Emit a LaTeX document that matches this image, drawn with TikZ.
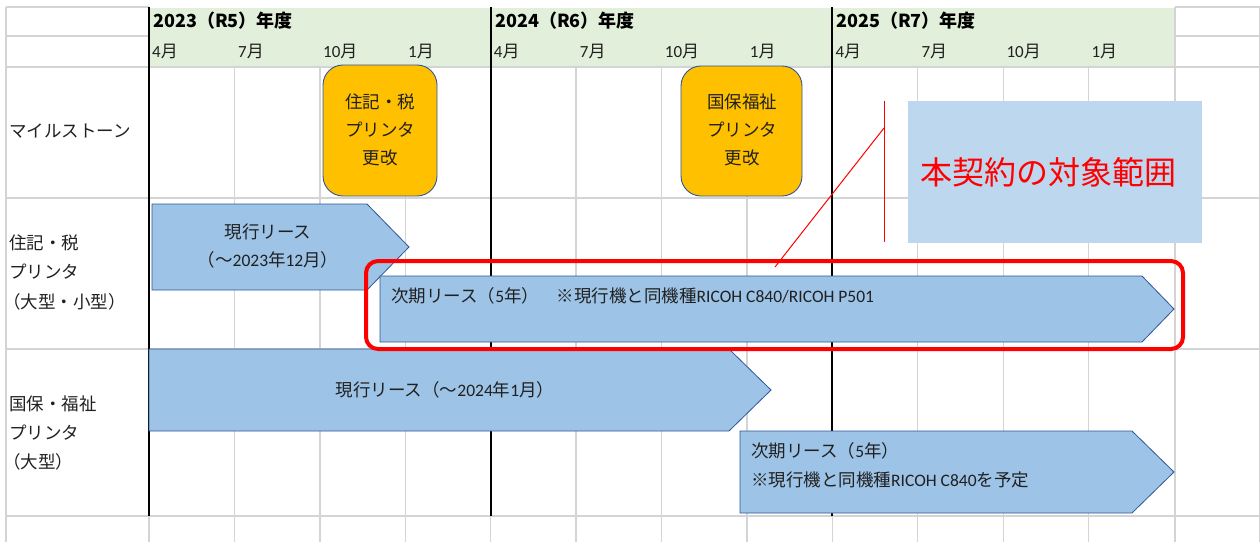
\documentclass[tikz,border=0pt]{standalone}
\usepackage{fontspec}
\newfontfamily\jp{Noto Sans CJK JP}
\newfontfamily\cl{Carlito}
\newcommand\cln[1]{{\cl #1}}
\definecolor{gridgray}{HTML}{D4D4D4}
\definecolor{hdrgreen}{HTML}{E2EFDA}
\definecolor{arrowblue}{HTML}{9DC3E6}
\definecolor{borderblue}{HTML}{2F5597}
\definecolor{mileorange}{HTML}{FFC000}
\definecolor{callblue}{HTML}{BDD7EE}
\definecolor{txtc}{HTML}{202020}
\begin{document}
\begin{tikzpicture}[x=1pt,y=-1pt,
  grid/.style={draw=gridgray,line width=1.4pt},
  yearline/.style={draw=black,line width=2pt},
  arrowshape/.style={fill=arrowblue,draw=borderblue,line width=0.8pt},
  mile/.style={fill=mileorange,draw=borderblue,line width=0.9pt,rounded corners=20pt},
  txt/.style={font=\jp\fontsize{17.5}{28}\selectfont,text=txtc,inner sep=0pt},
  yr/.style={font=\jp\bfseries\fontsize{18}{20}\selectfont,text=black,inner sep=0pt,anchor=west},
  mon/.style={font=\jp\fontsize{17}{20}\selectfont,text=txtc,inner sep=0pt,anchor=west},
  scope box/.style={draw=red,line width=4pt,rounded corners=12pt},
  leader/.style={draw=red,line width=1pt}]
\useasboundingbox (0,0) rectangle (1260,542);
% header
\fill[hdrgreen] (149,8) rectangle (1175,67);
% grid
\draw[grid] (6,7)--(149,7) (1175,7)--(1260,7);
\draw[grid] (6,36)--(149,36) (1175,36)--(1260,36);
\draw[grid] (6,67)--(1260,67) (6,198)--(1260,198) (6,349)--(1260,349) (6,516)--(1260,516);
\draw[grid] (6,7)--(6,542) (1175,7)--(1175,542) (1259.3,7)--(1259.3,542);
\foreach \i in {1,...,11}{\draw[grid] ({149+85.42*\i},67)--({149+85.42*\i},542);}
\draw[grid] (149,516)--(149,542) (490.7,516)--(490.7,542) (832.3,516)--(832.3,542);
\draw[yearline] (149,7)--(149,516) (490.7,7)--(490.7,516) (832.3,7)--(832.3,516);
% header texts
\node[yr] (y1) at (153,21) {2023（R5）年度};
\node[yr] (y2) at (495,21) {2024（R6）年度};
\node[yr] (y3) at (836,21) {2025（R7）年度};
\foreach \b/\n in {0/a,341.7/b,683.4/c}{
  \node[mon] (m4\n) at ({152+\b},51) {\cln{4}月};
  \node[mon] (m7\n) at ({238+\b},51) {\cln{7}月};
  \node[mon] (m10\n) at ({323+\b},51) {\cln{10}月};
  \node[mon] (m1\n) at ({408+\b},51) {\cln{1}月};
}
% row labels
\node[txt,anchor=west] (r1) at (9,131) {マイルストーン};
\node[txt,anchor=west] (r2a) at (9,243) {住記・税};
\node[txt,anchor=west] (r2b) at (9,272) {プリンタ};
\node[txt,anchor=west] (r2c) at (3,302) {（大型・小型）};
\node[txt,anchor=west] (r3a) at (9,404) {国保・福祉};
\node[txt,anchor=west] (r3b) at (9,433) {プリンタ};
\node[txt,anchor=west] (r3c) at (3,462) {（大型）};
% milestones
\draw[mile] (323,65) rectangle (437,196);
\node[txt,align=center] (ms1) at (380,130) {住記・税\\プリンタ\\更改};
\draw[mile] (681,66) rectangle (802,196);
\node[txt,align=center] (ms2) at (742,130) {国保福祉\\プリンタ\\更改};
% lease arrows
\draw[arrowshape] (152,204)--(367,204)--(409,247)--(367,290)--(152,290)--cycle;
\node[txt,align=center] (a1) at (268,246) {現行リース\\（～\cln{2023}年\cln{12}月）};
\draw[arrowshape] (149,349)--(729,349)--(771,390)--(729,431)--(149,431)--cycle;
\node[txt] (a3) at (445,390) {現行リース（～\cln{2024}年\cln{1}月）};
\draw[arrowshape] (380,276)--(1142,276)--(1174,309)--(1142,342)--(380,342)--cycle;
\node[txt,anchor=west] (a2) at (391,296) {次期リース（\cln{5}年）　※現行機と同機種\cln{RICOH C840/RICOH P501}};
\draw[arrowshape] (740,431)--(1132,431)--(1174,472)--(1132,513)--(740,513)--cycle;
\node[txt,anchor=west] (a4a) at (751,451) {次期リース（\cln{5}年）};
\node[txt,anchor=west] (a4b) at (751,480) {※現行機と同機種\cln{RICOH C840}を予定};
% scope box
\draw[scope box] (366,261) rectangle (1183,349);
% callout
\fill[callblue] (908,101) rectangle (1202,243);
\node[font=\jp\fontsize{32}{36}\selectfont,text=red,inner sep=0pt,anchor=west] (ct) at (920,172) {本契約の対象範囲};
\coordinate (accT) at (884,101);
\coordinate (accB) at (884,242);
\coordinate (accM) at (884,128);
\coordinate (ptr) at (775,267);
\draw[leader] (accT)--(accB);
\draw[leader] (accM)--(ptr);
\end{tikzpicture}
\end{document}
